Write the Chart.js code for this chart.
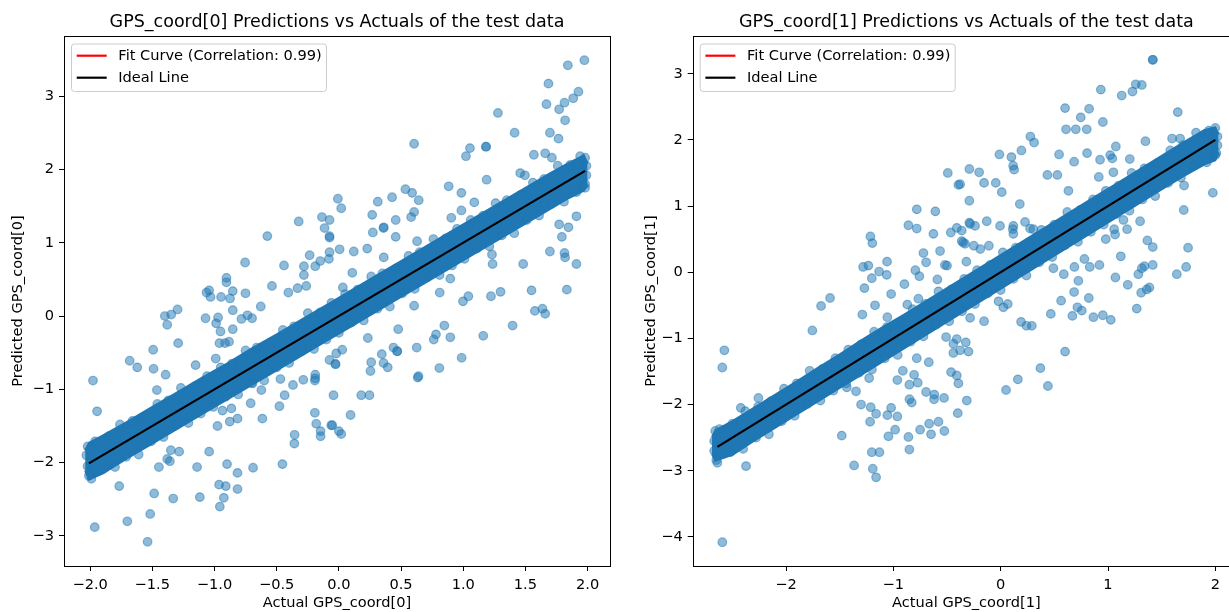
<!DOCTYPE html>
<html>
<head>
<meta charset="utf-8">
<script src="https://cdn.jsdelivr.net/npm/chart.js@4.4.0/dist/chart.umd.min.js"></script>
<style>
  html, body { margin: 0; padding: 0; background: #fff; overflow: hidden; }
  .panel { position: absolute; top: 0; }
  #p0 { left: 0; }
  #p1 { left: 615px; }
</style>
</head>
<body>
<div class="panel" id="p0"><canvas id="c0" width="615" height="612"></canvas></div>
<div class="panel" id="p1"><canvas id="c1" width="630" height="612"></canvas></div>
<script>
/* ==================== DATA ==================== */
// --- GPS_coord[0] ---
const xTicks0 = [-2.0, -1.5, -1.0, -0.5, 0.0, 0.5, 1.0, 1.5, 2.0];
const yTicks0 = [-3, -2, -1, 0, 1, 2, 3];
const idealX0 = [-2.01, 1.98];
const fitX0 = [-2.01, 1.98];
const fitY0 = [-1.99, 1.96];
// core of the dense band around the diagonal
const bandX0   = [-2.04, -2.01, -1.9, -1.7, -1.5, -1.3, -1.1, -0.9, -0.7, -0.5, -0.3, -0.1, 0.1, 0.3, 0.5, 0.7, 0.9, 1.1, 1.3, 1.5, 1.7, 1.85, 1.97, 2.00];
const bandTop0 = [-1.83, -1.73, -1.63, -1.44, -1.24, -1.04, -0.84, -0.65, -0.44, -0.25, -0.05, 0.15, 0.35, 0.55, 0.75, 0.95, 1.15, 1.35, 1.55, 1.75, 1.95, 2.09, 2.19, 2.08];
const bandBot0 = [-2.11, -2.23, -2.15, -1.94, -1.74, -1.54, -1.34, -1.14, -0.94, -0.74, -0.54, -0.34, -0.14, 0.06, 0.26, 0.46, 0.66, 0.86, 1.06, 1.26, 1.46, 1.61, 1.71, 1.79];
// points on the ragged edges of the band
const edgeX0 = [
  -1.96, -1.85, -1.76, -1.66, -1.57, -1.46, -1.37, -1.27, -1.16, -1.06, -0.95, -0.86, -0.75, -0.66, -0.55, -0.45, -0.36, -0.25, -0.15, -0.06,
  0.05, 0.15, 0.26, 0.35, 0.46, 0.56, 0.65, 0.76, 0.86, 0.95, 1.06, 1.16, 1.26, 1.35, 1.46, 1.56, 1.65, 1.76, 1.86, 1.94,
  -1.99, -1.90, -1.80, -1.71, -1.61, -1.51, -1.41, -1.31, -1.21, -1.11, -1.01, -0.91, -0.81, -0.70, -0.60, -0.50, -0.40, -0.30, -0.20, -0.10,
  0.00, 0.10, 0.20, 0.31, 0.41, 0.51, 0.61, 0.71, 0.81, 0.91, 1.01, 1.11, 1.21, 1.31, 1.41, 1.51, 1.61, 1.71, 1.81, 1.91, 1.98,
  -2.02, -2.03, -2.02, -2.01, 1.98, 1.99, 1.99, 1.98
];
const edgeY0 = [
  -1.71, -1.64, -1.48, -1.43, -1.38, -1.20, -1.15, -0.98, -0.96, -0.82, -0.70, -0.65, -0.47, -0.43, -0.36, -0.19, -0.14, 0.04, 0.05, 0.18,
  0.30, 0.36, 0.54, 0.58, 0.65, 0.82, 0.87, 1.05, 1.06, 1.19, 1.31, 1.37, 1.54, 1.58, 1.65, 1.82, 1.87, 2.05, 2.06, 2.18,
  -2.22, -2.09, -2.06, -1.92, -1.89, -1.71, -1.65, -1.49, -1.46, -1.33, -1.24, -1.10, -1.07, -0.91, -0.88, -0.70, -0.64, -0.48, -0.45, -0.32,
  -0.23, -0.09, -0.06, 0.10, 0.13, 0.31, 0.37, 0.53, 0.56, 0.69, 0.78, 0.92, 0.95, 1.10, 1.13, 1.31, 1.37, 1.53, 1.56, 1.69, 1.75,
  -1.78, -1.90, -2.05, -2.18, 2.16, 2.05, 1.92, 1.80
];
// scattered points away from the band
const actual0 = [
  1.974, 1.841, 1.685, 1.926, 1.884, 1.814, 1.669, 1.771, 1.279, 1.819, 1.413, 1.697, 1.766, 0.605, 1.054, 1.022, 1.183, 1.183, 1.568, 1.659,
  1.713, 1.458, 1.496, 1.188, 0.883, 0.985, 1.089, 0.985, 0.904, 0.535, 0.589, 0.642, 0.605, 0.581, 0.428, 0.313, 0.268, 0.361, 0.457, -0.008,
  0.019, -0.075, 1.910, 1.771, 1.846, 1.793, 1.697, 1.814, 1.819, 1.910, 1.482, 1.236, 1.231, 1.833, 1.549, 1.300, 1.223, 1.041, 0.998, 0.811,
  0.896, 0.605, 1.576, 1.637, 1.659, 1.397, 1.161, 0.848, 0.781, 0.763, 0.896, 0.477, 0.233, 0.626, 0.987, 0.439, 0.469, 0.469, 0.345, 0.260,
  0.359, 0.393, 0.254, 0.808, 0.634, 0.640, -0.021, 0.027, -0.029, -0.043, 0.180, 0.246, 0.094, -0.053, 0.000, 0.019, 0.359, 0.273, 0.457, 0.629,
  0.006, 0.120, 0.228, 0.361, 0.108, -0.075, -0.075, 0.032, -0.323, -0.136, -0.115, -0.075, -0.575, -0.080, -0.150, -0.190, -0.235, -0.281, -0.281, -0.262,
  -0.332, -0.406, -0.441, -0.538, -0.754, -0.904, -0.904, -1.064, -1.043, -1.032, -0.947, -0.875, -0.853, -0.751, -0.853, -0.628, -0.783, -0.735, -0.698, -1.072,
  -0.971, -0.987, -0.952, -0.853, -0.960, -0.915, -0.883, -1.297, -1.399, -1.348, -1.380, -1.292, -1.493, -1.682, -1.621, -1.490, -1.393, -1.977, -1.463, -1.152,
  -0.990, -0.075, -0.026, -0.190, -0.190, -0.286, -0.369, -0.470, -0.623, -0.695, -1.944, -1.351, -1.284, -1.380, -1.359, -1.447, -1.766, -1.485, -1.332, -1.118,
  -1.140, -1.043, -0.899, -0.815, -0.690, -0.454, -0.356, -0.358, -0.963, -0.909, -0.815, -0.925, -0.957, -1.517, -1.701, -1.963, -1.538, -0.615, -0.709, -0.478,
  -0.436, -0.193, -0.182, -0.147, -0.147, -0.061, -0.193, -0.976, -0.877, -0.815, -0.936, -0.864
];
const pred0 = [
  3.49, 3.42, 3.17, 3.06, 2.97, 2.91, 2.89, 2.82, 2.77, 2.67, 2.50, 2.50, 2.42, 2.35, 2.29, 2.18, 2.31, 2.31, 2.20, 2.22,
  2.16, 1.95, 1.92, 1.86, 1.77, 1.68, 1.55, 1.44, 1.34, 1.73, 1.68, 1.58, 1.42, 1.35, 1.62, 1.56, 1.38, 1.21, 1.31, 1.60,
  1.47, 1.31, 1.36, 1.25, 1.21, 1.08, 0.88, 0.86, 0.80, 0.71, 0.71, 0.71, 0.84, 0.36, 0.35, 0.33, 0.27, 0.27, 0.20, 0.32,
  0.51, 0.14, 0.07, 0.10, 0.03, -0.13, -0.27, -0.13, -0.25, -0.32, -0.29, -0.18, -0.30, -0.43, -0.57, -0.43, -0.48, -0.48, -0.52, -0.63,
  -0.64, -0.70, -0.75, -0.71, -0.84, -0.82, -0.51, -0.46, -0.65, -1.08, -1.08, -1.08, -1.35, -1.49, -1.57, -1.61, 1.20, 1.14, 1.08, 1.02,
  0.91, 0.88, 0.92, 0.80, 0.59, 1.09, 0.87, 0.39, 1.29, 1.35, 1.20, 1.07, 1.09, 0.78, 0.75, 0.68, 0.83, 0.68, 0.56, 0.41,
  0.38, 0.32, 0.69, 0.41, 0.73, 0.52, 0.46, 0.32, 0.35, 0.26, 0.26, 0.24, 0.34, 0.31, 0.08, 0.13, -0.04, 0.01, -0.03, -0.03,
  -0.02, -0.10, -0.21, -0.18, -0.37, -0.37, -0.35, 0.09, 0.00, 0.02, -0.12, -0.37, -0.46, -0.61, -0.70, -0.72, -0.80, -0.88, -1.01, -0.67,
  -0.58, -0.60, -0.66, -0.80, -0.85, -0.87, -0.94, -0.86, -1.01, -0.92, -1.30, -1.83, -1.85, -1.95, -1.98, -2.06, -2.32, -2.42, -2.49, -2.47,
  -2.06, -1.85, -2.02, -2.14, -2.07, -2.02, -1.62, -1.74, -2.30, -2.32, -2.36, -2.48, -2.60, -2.70, -2.80, -2.88, -3.08, -1.40, -1.19, -1.23,
  -1.08, -1.32, -1.47, -1.57, -1.64, -1.49, -0.88, -1.50, -1.44, -1.40, -1.29, -1.26
];

// --- GPS_coord[1] ---
const xTicks1 = [-2, -1, 0, 1, 2];
const yTicks1 = [-4, -3, -2, -1, 0, 1, 2, 3];
const idealX1 = [-2.64, 2.00];
const fitX1 = [-2.64, 2.00];
const fitY1 = [-2.62, 1.98];
const bandX1   = [-2.69, -2.66, -2.5, -2.3, -2.1, -1.9, -1.7, -1.5, -1.3, -1.1, -0.9, -0.7, -0.5, -0.3, -0.1, 0.1, 0.3, 0.5, 0.7, 0.9, 1.1, 1.3, 1.5, 1.7, 1.9, 2.0, 2.03];
const bandTop1 = [-2.49, -2.39, -2.25, -2.05, -1.85, -1.65, -1.44, -1.24, -1.03, -0.83, -0.64, -0.44, -0.24, -0.04, 0.16, 0.36, 0.56, 0.76, 0.96, 1.16, 1.36, 1.56, 1.76, 1.96, 2.15, 2.19, 2.08];
const bandBot1 = [-2.75, -2.85, -2.76, -2.55, -2.35, -2.15, -1.95, -1.75, -1.55, -1.35, -1.15, -0.95, -0.75, -0.55, -0.35, -0.15, 0.05, 0.25, 0.45, 0.65, 0.85, 1.05, 1.25, 1.45, 1.63, 1.69, 1.81];
const edgeX1 = [
  -2.62, -2.50, -2.38, -2.26, -2.14, -2.02, -1.90, -1.78, -1.66, -1.54, -1.42, -1.30, -1.18, -1.06, -0.94, -0.82, -0.70, -0.58, -0.46, -0.34,
  -0.22, -0.10, 0.02, 0.14, 0.26, 0.38, 0.50, 0.62, 0.74, 0.86, 0.98, 1.10, 1.22, 1.34, 1.46, 1.58, 1.70, 1.82, 1.94,
  -2.64, -2.52, -2.40, -2.28, -2.16, -2.04, -1.92, -1.80, -1.68, -1.56, -1.44, -1.32, -1.20, -1.08, -0.96, -0.84, -0.72, -0.60, -0.48, -0.36,
  -0.24, -0.12, 0.00, 0.12, 0.24, 0.36, 0.48, 0.60, 0.72, 0.84, 0.96, 1.08, 1.20, 1.32, 1.44, 1.56, 1.68, 1.80, 1.92, 2.00,
  -2.66, -2.67, -2.67, -2.65, 2.00, 2.02, 2.02, 2.01
];
const edgeY1 = [
  -2.37, -2.29, -2.10, -2.03, -1.95, -1.76, -1.68, -1.49, -1.46, -1.30, -1.17, -1.09, -0.90, -0.83, -0.75, -0.56, -0.48, -0.29, -0.26, -0.10,
  0.03, 0.11, 0.30, 0.37, 0.45, 0.64, 0.72, 0.91, 0.94, 1.10, 1.23, 1.31, 1.50, 1.57, 1.65, 1.84, 1.92, 2.11, 2.14,
  -2.88, -2.72, -2.67, -2.50, -2.45, -2.25, -2.17, -1.99, -1.94, -1.79, -1.68, -1.52, -1.47, -1.30, -1.25, -1.05, -0.97, -0.79, -0.74, -0.59,
  -0.48, -0.32, -0.27, -0.10, -0.05, 0.15, 0.23, 0.41, 0.46, 0.61, 0.72, 0.88, 0.93, 1.10, 1.15, 1.35, 1.43, 1.61, 1.66, 1.77,
  -2.40, -2.55, -2.70, -2.84, 2.18, 2.05, 1.92, 1.80
];
const actual1 = [
  -0.493, -0.394, -0.292, -0.292, -0.782, -0.609, -0.860, -0.782, -0.409, -0.292, -0.627, -0.465, -0.363, -0.363, -0.332, -1.214, -1.196, -0.720, -0.695, -0.565,
  -0.520, -0.500, -0.320, -1.059, -1.282, -1.233, -1.133, -1.062, -1.201, -0.795, -0.758, -0.590, -0.897, -1.270, -1.021, -1.590, -1.674, -1.171, -1.289, -1.056,
  -0.870, -0.767, -1.755, -2.575, -2.594, -2.258, -0.509, -0.441, -0.409, -0.325, -0.441, -0.378, -0.300, -0.782, -0.670, -0.462, -0.409, -0.394, -0.912, -0.963,
  -0.807, -0.773, -0.851, -0.695, -0.618, -0.528, -0.850, -1.348, -1.434, -1.226, -2.422, -2.373, -2.594, -1.481, -1.366, -1.301, -1.211, -1.161, -1.217, -1.201,
  -1.130, -1.192, -1.161, -1.056, -1.021, -0.963, -0.984, -1.046, -0.860, -0.851, -0.829, -0.751, -0.667, -0.649, -0.580, -0.525, -0.621, -0.400, -0.316, 1.417,
  1.417, 1.259, 1.315, 1.228, 1.128, 0.933, 0.600, 0.824, 0.746, 0.952, 0.609, 0.700, 0.802, 1.650, 0.277, 0.311, 0.193, -0.012, 0.100, 0.116,
  0.125, 0.544, 0.684, 0.805, 1.073, 1.020, 1.040, 0.926, 1.203, 1.349, 1.597, 1.672, -0.201, 0.435, 0.528, 0.914, 1.050, -0.155, -0.046, 0.010,
  0.631, 0.178, -0.378, 1.709, 1.977, 1.706, 1.746, 1.728, 1.641, 1.299, 1.178, 1.057, 1.066, 0.979, 1.144, 1.367, 1.417, 1.119, 1.417, 1.339,
  1.315, 1.283, 1.069, 1.184, 1.386, 1.361, 1.309, 1.268, 0.780, 0.687, 0.830, 0.920, 0.491, 0.588, 0.724, 0.684, 0.821, 0.563, 0.467, 0.668,
  0.715, 0.756, 0.864, 0.952, 1.026, 0.025, 0.066, -0.020, 0.190, 0.240, 0.290, -0.285, -0.155, -0.285, -0.239, -0.130, -0.006, 0.118, 0.113, 0.118,
  0.227, 0.274, 0.305, -0.350, -0.250, -0.190, -0.110, 0.050, 0.160, 0.370, 0.440, 0.600
];
const pred1 = [
  1.50, 1.32, 1.56, 1.08, 0.95, 0.92, 0.71, 0.66, 0.67, 0.75, 0.58, 0.60, 0.63, 0.47, 0.43, 0.54, 0.44, 0.29, 0.15, 0.32,
  0.11, 0.10, 0.16, 0.16, 0.08, 0.10, 0.01, -0.04, -0.09, 0.03, -0.06, -0.11, -0.18, -0.24, -0.33, -0.39, -0.51, -0.50, -0.64, -0.68,
  -0.49, -0.40, -0.88, -1.18, -1.44, -1.90, -0.98, -1.08, -1.01, -1.06, -1.22, -1.18, -1.20, -1.30, -1.36, -1.51, -1.56, -1.68, -1.49, -1.63,
  -1.55, -1.67, -1.70, -1.81, -1.85, -1.90, -1.92, -1.80, -1.74, -1.60, -2.05, -2.93, -4.08, -2.47, -2.92, -2.00, -2.04, -2.14, -2.26, -2.72,
  -2.72, -2.97, -3.10, -2.16, -2.05, -2.18, -2.38, -2.48, -2.49, -2.68, -1.97, -2.38, -2.29, -2.45, -2.26, -2.40, -1.92, -2.13, -1.94, 3.21,
  3.21, 2.84, 2.83, 2.73, 2.67, 2.76, 2.48, 2.47, 2.34, 2.27, 2.16, 2.16, 2.16, 2.42, 2.05, 1.96, 1.84, 1.78, 1.74, 1.61,
  1.55, 1.78, 1.67, 1.80, 1.90, 1.77, 1.72, 1.70, 1.71, 1.98, 2.02, 2.02, 1.51, 1.47, 1.47, 1.44, 1.51, 1.35, 1.35, 1.21,
  1.23, 1.03, 1.33, 1.31, 1.20, 0.94, 0.37, 0.08, -0.03, 0.77, 0.65, 0.65, 0.57, 0.50, 0.79, 0.48, 0.38, 0.24, 0.11, 0.09,
  0.06, -0.03, -0.08, -0.19, -0.23, -0.26, -0.31, -0.55, 0.20, 0.08, 0.08, 0.11, 0.06, -0.03, -0.13, -0.30, -0.39, -0.43, -0.63, -0.66,
  -0.53, -0.58, -0.68, -0.65, -0.72, -0.53, -0.48, -0.44, -0.75, -0.81, -0.81, -0.69, -0.74, 0.73, 0.70, 0.77, 0.70, 0.70, 0.65, 0.58,
  0.76, 0.66, 0.65, 0.45, 0.40, 0.35, 0.40, -1.78, -1.62, -1.45, -1.72, -1.20
];

/* ==================== HELPERS ==================== */
const BLUE = 'rgb(31,119,180)';
const DOT = 'rgba(31,119,180,0.5)';
const FS = 14.6; // matplotlib 10pt at this figure's dpi
const minus = (s) => s.replace('-', '\u2212');
const pts = (xs, ys) => xs.map((x, i) => ({ x: x, y: ys[i] }));

Chart.defaults.font.family = "'DejaVu Sans', sans-serif";
Chart.defaults.font.size = FS;
Chart.defaults.color = '#000';

// full box around the plot area (matplotlib spines)
const frame = {
  id: 'frame',
  afterDraw(chart) {
    const a = chart.chartArea, ctx = chart.ctx;
    ctx.save();
    ctx.strokeStyle = '#000';
    ctx.lineWidth = 1;
    ctx.strokeRect(Math.round(a.left) + 0.5, Math.round(a.top) + 0.5,
      Math.round(a.right - a.left), Math.round(a.bottom - a.top));
    ctx.restore();
  }
};

// legend box drawn inside the upper-left corner of the plot area
const legendBox = {
  id: 'legendBox',
  afterDatasetsDraw(chart) {
    const a = chart.chartArea, ctx = chart.ctx;
    const items = chart.data.datasets.filter(d => d.inLegend);
    const x = a.left + 7.5, y = a.top + 8, w = 255, h = 47.5;
    ctx.save();
    ctx.fillStyle = 'rgba(255,255,255,0.8)';
    ctx.strokeStyle = '#cccccc';
    ctx.lineWidth = 1;
    ctx.beginPath();
    if (ctx.roundRect) ctx.roundRect(x, y, w, h, 3); else ctx.rect(x, y, w, h);
    ctx.fill();
    ctx.stroke();
    ctx.font = FS + "px 'DejaVu Sans'";
    ctx.textBaseline = 'middle';
    items.forEach((d, i) => {
      const ly = a.top + 19.7 + i * 22;
      ctx.strokeStyle = d.borderColor;
      ctx.lineWidth = 2.2;
      ctx.beginPath();
      ctx.moveTo(a.left + 12.7, ly);
      ctx.lineTo(a.left + 42.7, ly);
      ctx.stroke();
      ctx.fillStyle = '#000';
      ctx.fillText(d.label, a.left + 54.3, ly + 0.5);
    });
    ctx.restore();
  }
};

function makeChart(id, cfg) {
  const axisTicks = (vals, dec, pad) => ({
    afterBuildTicks: (ax) => { ax.ticks = vals.map(v => ({ value: v })); },
    ticks: { padding: pad, callback: (v) => minus(Number(v).toFixed(dec)), font: { size: FS } }
  });
  const grid = { display: true, drawOnChartArea: false, drawTicks: true, tickLength: 5, tickColor: '#000', color: '#000' };
  const dots = (label, xs, ys) => ({
    type: 'scatter', label: label, data: pts(xs, ys),
    backgroundColor: DOT, borderColor: DOT, borderWidth: 1.2, pointRadius: 4.3, order: 2
  });

  return new Chart(document.getElementById(id), {
    type: 'scatter',
    data: {
      datasets: [
        { type: 'line', label: cfg.fitLabel, data: pts(cfg.fitX, cfg.fitY), borderColor: 'red', borderWidth: 2.2,
          pointRadius: 0, fill: false, inLegend: true, order: 4 },
        { type: 'line', label: 'band top', data: pts(cfg.bandX, cfg.bandTop), borderColor: BLUE, borderWidth: 2,
          borderJoinStyle: 'round', backgroundColor: BLUE, pointRadius: 0, fill: '+1', order: 3 },
        { type: 'line', label: 'band bottom', data: pts(cfg.bandX, cfg.bandBot), borderColor: BLUE, borderWidth: 2,
          borderJoinStyle: 'round', pointRadius: 0, fill: false, order: 3 },
        dots('band edge', cfg.edgeX, cfg.edgeY),
        dots('points', cfg.actual, cfg.pred),
        { type: 'line', label: 'Ideal Line', data: pts(cfg.idealX, cfg.idealX), borderColor: '#000', borderWidth: 2.2,
          pointRadius: 0, fill: false, inLegend: true, order: 1 }
      ]
    },
    options: {
      responsive: false,
      animation: false,
      events: [],
      layout: { autoPadding: false, padding: { left: 0, top: 0, right: 5, bottom: 0 } },
      plugins: {
        legend: { display: false },
        tooltip: { enabled: false },
        title: {
          display: true, text: cfg.title, fullSize: false, color: '#000',
          font: { size: 17.5, weight: 'normal', lineHeight: 1.2 },
          padding: { top: 11.5, bottom: 3.5 }
        }
      },
      scales: {
        x: Object.assign({
          type: 'linear', min: cfg.xMin, max: cfg.xMax,
          afterFit: (s) => { s.height = 46; },
          grid: grid, border: { display: false },
          title: { display: true, text: cfg.xLabel, font: { size: FS }, padding: { top: 0, bottom: 0.3 } }
        }, axisTicks(cfg.xTicks, cfg.xDec, 5)),
        y: Object.assign({
          type: 'linear', min: cfg.yMin, max: cfg.yMax,
          afterFit: (s) => { s.width = cfg.yWidth; },
          grid: grid, border: { display: false },
          title: { display: true, text: cfg.yLabel, font: { size: FS }, padding: { top: cfg.yTitlePad, bottom: 0 } }
        }, axisTicks(cfg.yTicks, 0, 5))
      }
    },
    plugins: [frame, legendBox]
  });
}

/* ==================== CHARTS ==================== */
makeChart('c0', {
  title: 'GPS_coord[0] Predictions vs Actuals of the test data',
  xLabel: 'Actual GPS_coord[0]', yLabel: 'Predicted GPS_coord[0]',
  fitLabel: 'Fit Curve (Correlation: 0.99)',
  xMin: -2.21, xMax: 2.18, yMin: -3.41, yMax: 3.82,
  xTicks: xTicks0, xDec: 1, yTicks: yTicks0,
  yWidth: 64, yTitlePad: 9.2,
  fitX: fitX0, fitY: fitY0, idealX: idealX0,
  bandX: bandX0, bandTop: bandTop0, bandBot: bandBot0,
  edgeX: edgeX0, edgeY: edgeY0,
  actual: actual0, pred: pred0
});

makeChart('c1', {
  title: 'GPS_coord[1] Predictions vs Actuals of the test data',
  xLabel: 'Actual GPS_coord[1]', yLabel: 'Predicted GPS_coord[1]',
  fitLabel: 'Fit Curve (Correlation: 0.99)',
  xMin: -2.87, xMax: 2.23, yMin: -4.44, yMax: 3.57,
  xTicks: xTicks1, xDec: 0, yTicks: yTicks1,
  yWidth: 77.7, yTitlePad: 27.2,
  fitX: fitX1, fitY: fitY1, idealX: idealX1,
  bandX: bandX1, bandTop: bandTop1, bandBot: bandBot1,
  edgeX: edgeX1, edgeY: edgeY1,
  actual: actual1, pred: pred1
});
</script>
</body>
</html>
